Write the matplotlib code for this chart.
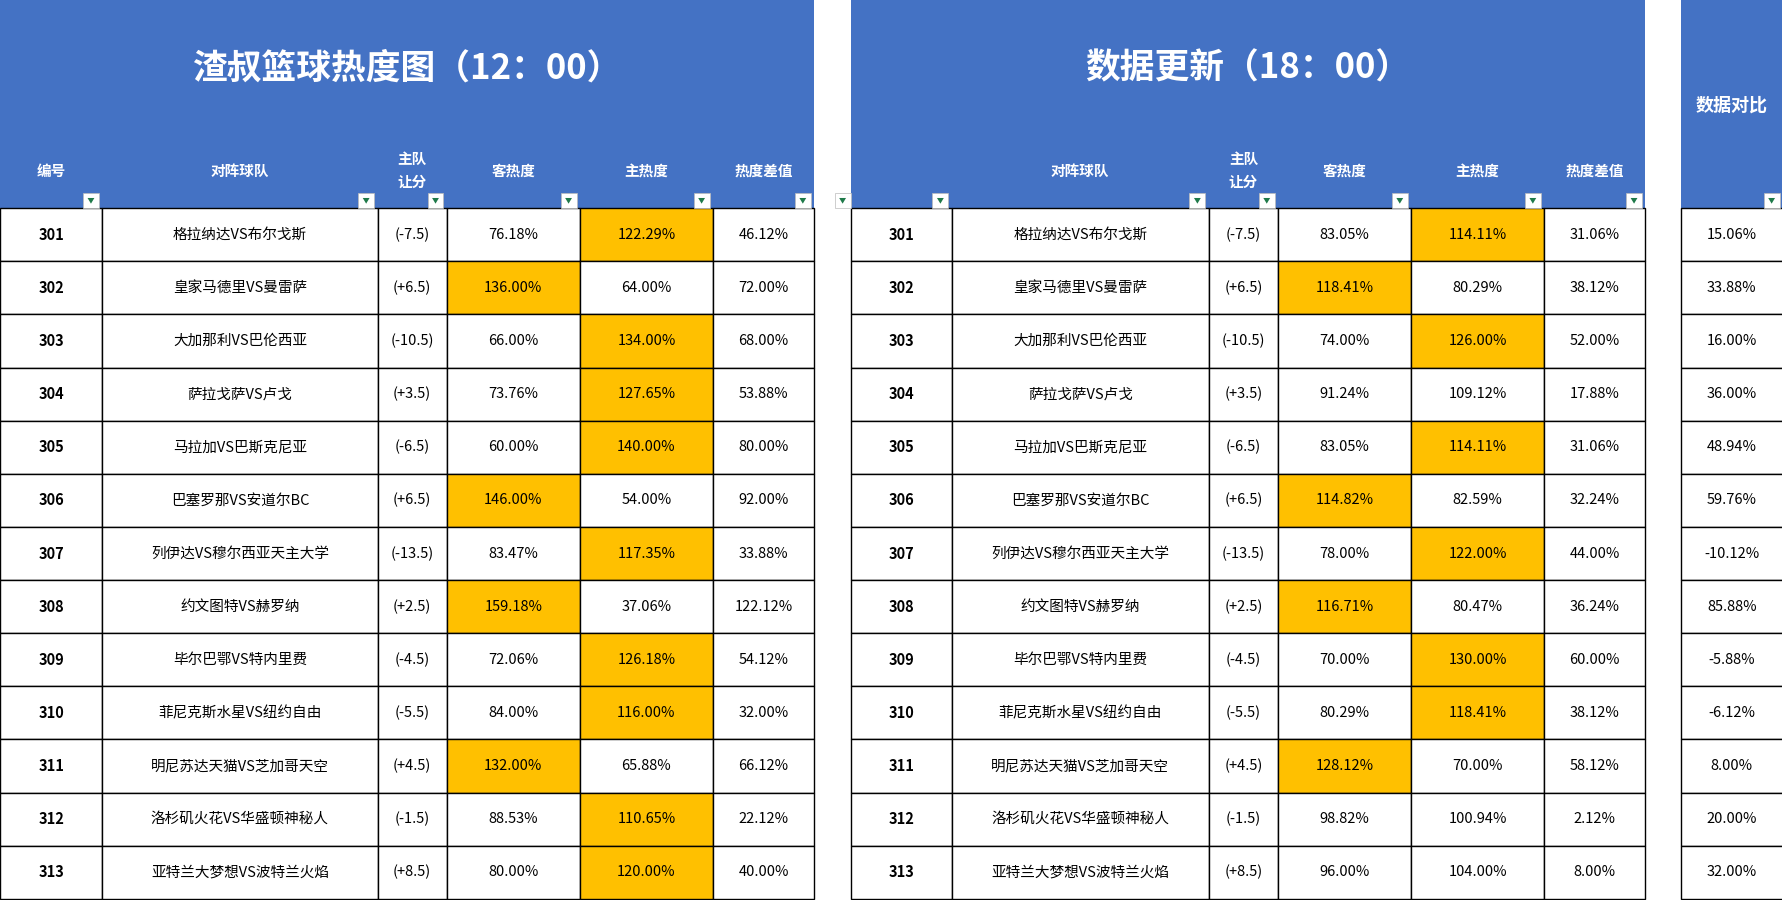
import matplotlib
matplotlib.use("Agg")
import matplotlib.pyplot as plt
from matplotlib.patches import Rectangle, Polygon

plt.rcParams['font.family'] = ['Noto Sans CJK SC', 'DejaVu Sans']

ids = [301,302,303,304,305,306,307,308,309,310,311,312,313]
teams = ["格拉纳达VS布尔戈斯","皇家马德里VS曼雷萨","大加那利VS巴伦西亚","萨拉戈萨VS卢戈",
         "马拉加VS巴斯克尼亚","巴塞罗那VS安道尔BC","列伊达VS穆尔西亚天主大学","约文图特VS赫罗纳",
         "毕尔巴鄂VS特内里费","菲尼克斯水星VS纽约自由","明尼苏达天猫VS芝加哥天空","洛杉矶火花VS华盛顿神秘人",
         "亚特兰大梦想VS波特兰火焰"]
handicap = ["(-7.5)","(+6.5)","(-10.5)","(+3.5)","(-6.5)","(+6.5)","(-13.5)","(+2.5)","(-4.5)","(-5.5)","(+4.5)","(-1.5)","(+8.5)"]
away12 = [76.18,136.00,66.00,73.76,60.00,146.00,83.47,159.18,72.06,84.00,132.00,88.53,80.00]
home12 = [122.29,64.00,134.00,127.65,140.00,54.00,117.35,37.06,126.18,116.00,65.88,110.65,120.00]
diff12 = [46.12,72.00,68.00,53.88,80.00,92.00,33.88,122.12,54.12,32.00,66.12,22.12,40.00]
away18 = [83.05,118.41,74.00,91.24,83.05,114.82,78.00,116.71,70.00,80.29,128.12,98.82,96.00]
home18 = [114.11,80.29,126.00,109.12,114.11,82.59,122.00,80.47,130.00,118.41,70.00,100.94,104.00]
diff18 = [31.06,38.12,52.00,17.88,31.06,32.24,44.00,36.24,60.00,38.12,58.12,2.12,8.00]
compare = [15.06,33.88,16.00,36.00,48.94,59.76,-10.12,85.88,-5.88,-6.12,8.00,20.00,32.00]

BLUE = "#4472C4"; GOLD = "#FFC000"
W, H = 1568, 791
fig = plt.figure(figsize=(17.83, 9.0), dpi=100)
ax = fig.add_axes([0, 0, 1, 1])
ax.set_xlim(0, W); ax.set_ylim(H, 0); ax.axis('off')
fs = 10.5

top, rowh = 183, (790 - 183) / 13
hdr_y = 150

def filt(x):
    ax.add_patch(Rectangle((x - 7, 170), 14, 13, fc='white', ec='#bbbbbb', lw=0.5, zorder=3))
    ax.add_patch(Polygon([(x - 3, 174), (x + 3, 174), (x, 179)], closed=True, fc='#1f7a4a', zorder=4))

def table(x0, cols, labels, title, data, titley=60, hl=True):
    ax.add_patch(Rectangle((x0, 0), cols[-1] - x0, top, fc=BLUE, ec='none'))
    if title:
        ax.text((x0 + cols[-1]) / 2, titley, title, color='white', fontsize=25, fontweight='bold',
                ha='center', va='center')
    for i, lab in enumerate(labels):
        cx = (cols[i] + cols[i + 1]) / 2
        ax.text(cx, hdr_y, lab, color='white', fontsize=fs,
                fontweight='bold', ha='center', va='center', linespacing=1.5)
        filt(cols[i + 1] - 10)
    for r in range(len(ids)):
        y = top + r * rowh
        for i in range(len(cols) - 1):
            fc = 'white'
            if hl and i in (3, 4):
                a, h, d = data[r][3], data[r][4], data[r][-1]
                if d >= 20 and ((i == 3 and a > h) or (i == 4 and h > a)):
                    fc = GOLD
            ax.add_patch(Rectangle((cols[i], y), cols[i + 1] - cols[i], rowh, fc=fc, ec='black', lw=1))
            v = data[r][i]
            txt = v if isinstance(v, str) else f"{v:.2f}%"
            ax.text((cols[i] + cols[i + 1]) / 2, y + rowh / 2, txt, fontsize=fs,
                    fontweight='bold' if i == 0 else 'normal', ha='center', va='center')

labels = ["编号", "对阵球队", "主队\n让分", "客热度", "主热度", "热度差值"]
c1 = [0, 90, 332, 393, 510, 627, 716]
d1 = [[str(ids[r]), teams[r], handicap[r], away12[r], home12[r], diff12[r]] for r in range(13)]
table(0, c1, labels, "渣叔篮球热度图（12：00）", d1)

c2 = [748, 837, 1063, 1124, 1241, 1358, 1447]
d2 = [[str(ids[r]), teams[r], handicap[r], away18[r], home18[r], diff18[r]] for r in range(13)]
table(748, c2, [""] + labels[1:], "数据更新（18：00）", d2)

ax.add_patch(Rectangle((1478, 0), 90, top, fc=BLUE, ec='none'))
ax.text(1523, 92, "数据对比", color='white', fontsize=13, fontweight='bold', ha='center', va='center')
filt(1558)
for r in range(13):
    y = top + r * rowh
    ax.add_patch(Rectangle((1478, y), 90, rowh, fc='white', ec='black', lw=1))
    ax.text(1523, y + rowh / 2, f"{compare[r]:.2f}%", fontsize=fs, ha='center', va='center')
filt(741)
fig.savefig("out.png", dpi=100)
